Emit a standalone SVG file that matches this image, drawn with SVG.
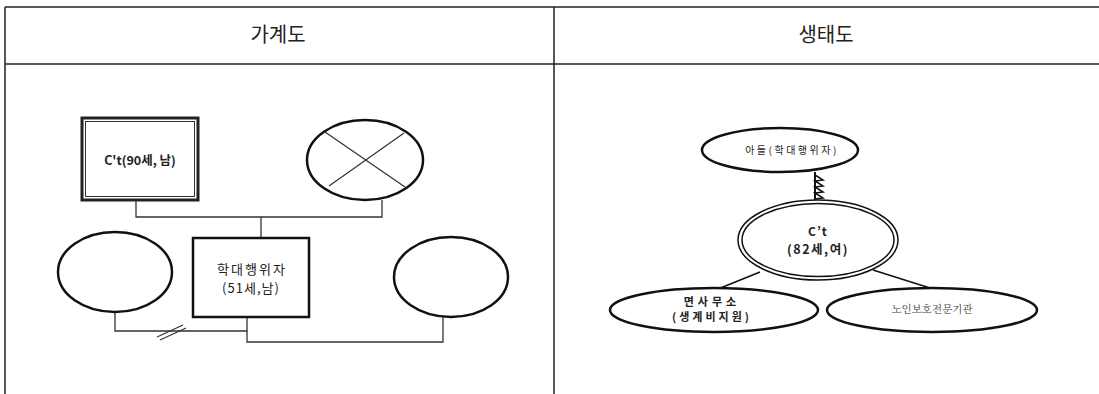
<svg xmlns="http://www.w3.org/2000/svg" width="1099" height="394" viewBox="0 0 1099 394">
<style>
.tbl{stroke:#222;stroke-width:1.5;fill:none}
.hdr{font-family:"Noto Sans CJK KR","Noto Sans",sans-serif;font-size:20px;fill:#222;text-anchor:middle}
.sh{fill:#fff;stroke:#111;stroke-width:2.5}
.ln{stroke:#333;stroke-width:1.3;fill:none}
.lbl{font-family:"Noto Sans CJK KR","Liberation Sans",sans-serif;font-size:11px;font-weight:bold;fill:#222;text-anchor:middle}
.reg{font-family:"Noto Sans CJK KR","Liberation Sans",sans-serif;font-size:11px;fill:#222;text-anchor:middle}
.ser{font-family:"Noto Serif CJK KR","Liberation Serif","Noto Sans CJK KR",serif;font-size:10px;fill:#444;text-anchor:middle}
</style>
<rect width="1099" height="394" fill="#fff"/>
<g id="table">
<line class="tbl" x1="5" y1="7" x2="1099" y2="7"/>
<line class="tbl" x1="5" y1="64" x2="1099" y2="64"/>
<line class="tbl" x1="5" y1="7" x2="5" y2="394"/>
<line class="tbl" x1="554" y1="7" x2="554" y2="394"/>
<text class="hdr" x="278" y="42">가계도</text>
<text class="hdr" x="826" y="42">생태도</text>
</g>
<g id="connectors">
<polyline class="ln" points="136,200 136,217 382,217 382,200"/>
<line class="ln" x1="261" y1="217" x2="261" y2="238"/>
<polyline class="ln" points="115,312 115,331 247,331 247,317"/>
<line class="ln" x1="157" y1="337" x2="183" y2="325"/>
<line class="ln" x1="160" y1="340" x2="186" y2="328"/>
<polyline class="ln" points="247,331 247,342 443,342 443,317"/>
<line x1="815" y1="172" x2="815" y2="200" stroke="#111" stroke-width="2"/>
<polyline points="815,175 823,180 815,181 823,186 815,187 823,192 815,193 823,198 815,199" fill="none" stroke="#111" stroke-width="1.5"/>
<line x1="760" y1="272" x2="718" y2="289" stroke="#111" stroke-width="1.6"/>
<line x1="873" y1="270" x2="930" y2="288" stroke="#111" stroke-width="1.6"/>
</g>
<g id="grandfather">
<rect x="82" y="118" width="116" height="82" fill="#fff" stroke="#222" stroke-width="3"/>
<rect x="85.5" y="121.5" width="109" height="75" fill="none" stroke="#333" stroke-width="1"/>
<text class="lbl" x="140" y="165" style="font-size:12.5px">C't(90세, 남)</text>
</g>
<g id="grandmother">
<ellipse class="sh" cx="365" cy="160" rx="58" ry="40"/>
<line x1="325" y1="132" x2="405" y2="187" stroke="#333" stroke-width="1.2"/>
<line x1="329" y1="186" x2="404" y2="133" stroke="#333" stroke-width="1.2"/>
</g>
<g id="abuser">
<rect class="sh" x="193" y="238" width="116" height="79"/>
<text class="reg" x="252" y="274" style="font-size:13px;letter-spacing:2px">학대행위자</text>
<text class="reg" x="251" y="293" style="font-size:13px;letter-spacing:1px">(51세,남)</text>
</g>
<g id="ex-wife">
<ellipse class="sh" cx="115" cy="272" rx="57" ry="40"/>
</g>
<g id="wife">
<ellipse class="sh" cx="451" cy="277" rx="57" ry="40"/>
</g>
<g id="son">
<ellipse class="sh" cx="780" cy="150" rx="78" ry="22"/>
<text class="reg" x="792" y="154" style="font-size:10px;letter-spacing:2.5px">아들(학대행위자)</text>
</g>
<g id="client">
<ellipse cx="818" cy="240" rx="80" ry="40" fill="#fff" stroke="#111" stroke-width="1.5"/>
<ellipse cx="818" cy="240" rx="76" ry="36.5" fill="none" stroke="#111" stroke-width="1.5"/>
<text class="lbl" x="818" y="236" style="font-size:12px;letter-spacing:1px">C’t</text>
<text class="lbl" x="818" y="254" style="font-size:12.5px;letter-spacing:1.5px">(82세,여)</text>
</g>
<g id="office">
<ellipse class="sh" cx="714" cy="310" rx="104" ry="22"/>
<text class="lbl" x="712" y="306" style="font-size:11px;letter-spacing:4px">면사무소</text>
<text class="lbl" x="712" y="321" style="font-size:11px;letter-spacing:3px">(생계비지원)</text>
</g>
<g id="agency">
<ellipse class="sh" cx="932" cy="310" rx="105" ry="22"/>
<text class="ser" x="932" y="313" style="font-size:10.5px">노인보호전문기관</text>
</g>
</svg>
